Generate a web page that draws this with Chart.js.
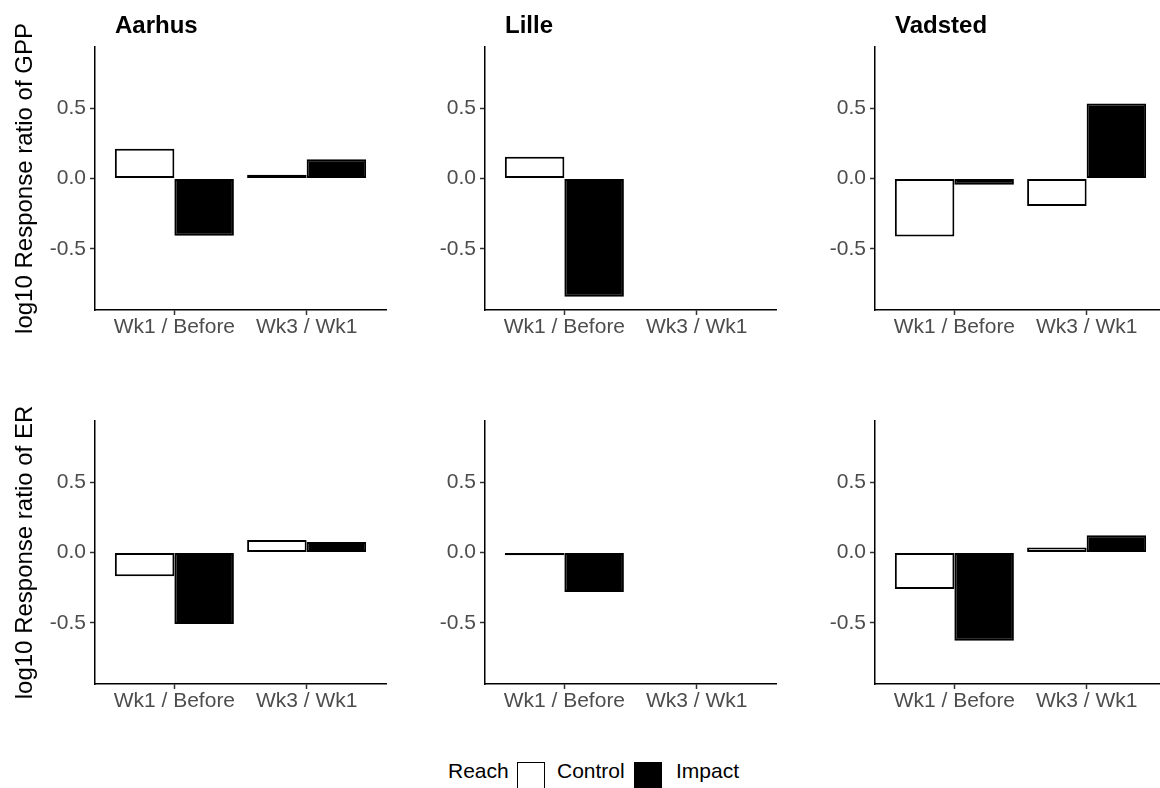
<!DOCTYPE html>
<html>
<head>
<meta charset="utf-8">
<script src="https://cdn.jsdelivr.net/npm/chart.js@4.4.1/dist/chart.umd.min.js"></script>
<style>
  html, body { margin: 0; padding: 0; background: #fff; }
  body { position: relative; width: 1160px; height: 788px; overflow: hidden; font-family: 'Liberation Sans', Arial, sans-serif; }
  .panel { position: absolute; }
  .facet { position: absolute; font-weight: bold; font-size: 24px; line-height: 24px; color: #000; white-space: nowrap; }
  .lg { position: absolute; font-size: 21px; line-height: 21px; color: #000; white-space: nowrap; }
  .key { position: absolute; width: 28px; height: 28px; box-sizing: border-box; border: 1.5px solid #000; }
</style>
</head>
<body>
<script>
const sites = ["Aarhus", "Lille", "Vadsted"];
const periods = ["Wk1 / Before", "Wk3 / Wk1"];
const reaches = ["Control", "Impact"];
const metrics = ["GPP", "ER"];
const yTicks = [-0.5, 0, 0.5];

// values per site, in period order (null = no data)
const gppControl = [[0.212, 0.026], [0.155, null], [-0.412, -0.195]];
const gppImpact  = [[-0.407, 0.136], [-0.84, null], [-0.045, 0.534]];
const erControl  = [[-0.168, 0.089], [-0.02, null], [-0.26, 0.035]];
const erImpact   = [[-0.508, 0.075], [-0.28, null], [-0.627, 0.123]];

const seriesByMetric = { GPP: [gppControl, gppImpact], ER: [erControl, erImpact] };
const fills = ["#ffffff", "#000000"];

Chart.defaults.font.family = "'Liberation Sans', Arial, sans-serif";

// ================= LAYOUT =================
const rowTop = [47, 421];
const colAxisX = [95, 485, 875];
const plotW = 291, plotH = 263;
const padTop = 47, padRight = 6, xAxisH = 50;

function makePanel(row, col) {
  const metric = metrics[row];
  const yW = col === 0 ? 95 : 60;
  const box = document.createElement("div");
  box.className = "panel";
  box.style.left = (colAxisX[col] - yW) + "px";
  box.style.top = (rowTop[row] - padTop) + "px";
  box.style.width = (yW + plotW + padRight) + "px";
  box.style.height = (padTop + plotH + xAxisH) + "px";
  const canvas = document.createElement("canvas");
  box.appendChild(canvas);
  document.body.appendChild(box);

  const datasets = reaches.map((r, k) => ({
    label: r,
    data: periods.map((p, i) => ({ x: i + 1, y: seriesByMetric[metric][k][col][i] })),
    backgroundColor: fills[k],
    borderColor: "#000",
    borderWidth: 2,
    borderSkipped: false
  }));

  new Chart(canvas, {
    type: "bar",
    data: { datasets },
    options: {
      responsive: true,
      maintainAspectRatio: false,
      animation: false,
      layout: { padding: { top: padTop, right: padRight, left: 0, bottom: 0 } },
      plugins: { legend: { display: false }, tooltip: { enabled: false } },
      datasets: { bar: { categoryPercentage: 0.9, barPercentage: 1 } },
      scales: {
        x: {
          type: "linear",
          offset: false,
          min: 0.4,
          max: 2.6,
          afterBuildTicks: s => { s.ticks = periods.map((p, i) => ({ value: i + 1 })); },
          afterFit: s => { s.height = xAxisH; },
          ticks: {
            callback: v => periods[Math.round(v) - 1],
            color: "#4d4d4d",
            font: { size: 21 },
            padding: 0,
            autoSkip: false,
            maxRotation: 0
          },
          grid: { display: true, offset: false, drawOnChartArea: false, drawTicks: true, tickLength: 5, tickColor: "#333", tickWidth: 1.5 },
          border: { display: true, color: "#000", width: 1.5 }
        },
        y: {
          min: -0.935,
          max: 0.935,
          afterBuildTicks: s => { s.ticks = yTicks.map(v => ({ value: v })); },
          afterFit: s => { s.width = yW; },
          ticks: {
            callback: v => v.toFixed(1),
            color: "#4d4d4d",
            font: { size: 21 },
            padding: 4
          },
          title: {
            display: col === 0,
            text: "log10 Response ratio of " + metric,
            color: "#000",
            font: { size: 24 },
            padding: { top: 11, bottom: 0 }
          },
          grid: { display: true, drawOnChartArea: false, drawTicks: true, tickLength: 5, tickColor: "#333", tickWidth: 1.5 },
          border: { display: true, color: "#000", width: 1.5 }
        }
      }
    }
  });
}

metrics.forEach((m, row) => sites.forEach((s, col) => makePanel(row, col)));

// ================= FACET TITLES =================
sites.forEach((s, col) => {
  const t = document.createElement("div");
  t.className = "facet";
  t.textContent = s;
  t.style.left = (colAxisX[col] + 20) + "px";
  t.style.top = "13px";
  document.body.appendChild(t);
});

// ================= LEGEND =================
function addText(txt, x) {
  const d = document.createElement("div");
  d.className = "lg";
  d.textContent = txt;
  d.style.left = x + "px";
  d.style.top = "760px";
  document.body.appendChild(d);
}
function addKey(fill, x) {
  const d = document.createElement("div");
  d.className = "key";
  d.style.left = x + "px";
  d.style.top = "762px";
  d.style.background = fill;
  document.body.appendChild(d);
}
addText("Reach", 448);
addKey(fills[0], 517);
addText(reaches[0], 557);
addKey(fills[1], 634);
addText(reaches[1], 676);
</script>
</body>
</html>
